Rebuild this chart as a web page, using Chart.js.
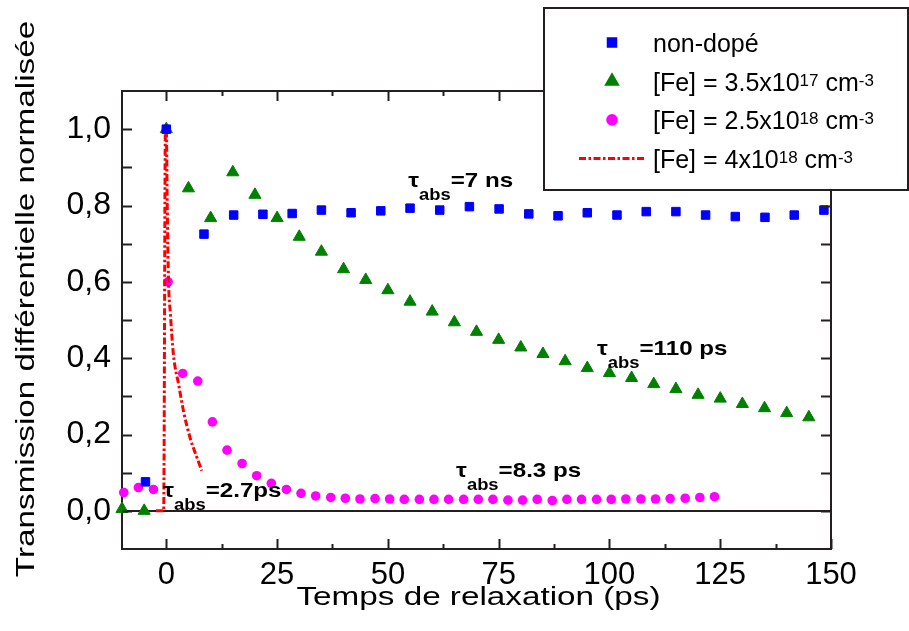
<!DOCTYPE html>
<html>
<head>
<meta charset="utf-8">
<script src="https://cdn.jsdelivr.net/npm/chart.js@4/dist/chart.umd.min.js"></script>
<style>
  html, body { margin: 0; padding: 0; background: #fff; }
  #wrap { width: 909px; height: 631px; }
</style>
</head>
<body>
<div id="wrap"><canvas id="out" width="909" height="631"></canvas></div>
<script>
// relaxation time (ps) / normalised differential transmission
const nonDopeX = [-4.7, 0, 8.5, 15.2, 21.8, 28.4, 35, 41.7, 48.4, 55, 61.7, 68.4, 75.1, 81.8, 88.4, 95, 101.7, 108.3, 115, 121.7, 128.4, 135.1, 141.7, 148.4];
const nonDopeY = [0.076, 1.0, 0.725, 0.775, 0.777, 0.779, 0.788, 0.781, 0.786, 0.793, 0.788, 0.797, 0.791, 0.778, 0.773, 0.781, 0.775, 0.784, 0.784, 0.775, 0.771, 0.769, 0.775, 0.788];

const fe35X = [-10, -5, 0, 5, 10, 15, 20, 25, 30, 35, 40, 45, 50, 55, 60, 65, 70, 75, 80, 85, 90, 95, 100, 105, 110, 115, 120, 125, 130, 135, 140, 145];
const fe35Y = [0.005, 0.0, 1.0, 0.845, 0.767, 0.887, 0.828, 0.767, 0.718, 0.679, 0.633, 0.605, 0.578, 0.548, 0.522, 0.494, 0.469, 0.448, 0.428, 0.411, 0.392, 0.374, 0.361, 0.348, 0.332, 0.319, 0.304, 0.294, 0.280, 0.269, 0.256, 0.245];

const fe25X = [-9.6, -6.3, -2.9, 0.4, 3.7, 7.1, 10.4, 13.7, 17.1, 20.4, 23.7, 27.1, 30.4, 33.7, 37.1, 40.4, 43.7, 47.1, 50.4, 53.7, 57.1, 60.4, 63.7, 67.1, 70.4, 73.7, 77.1, 80.4, 83.7, 87.1, 90.4, 93.7, 97.1, 100.4, 103.7, 107.1, 110.4, 113.7, 117.1, 120.4, 123.7];
const fe25Y = [0.048, 0.061, 0.056, 0.600, 0.360, 0.340, 0.233, 0.159, 0.124, 0.092, 0.072, 0.056, 0.046, 0.039, 0.035, 0.033, 0.031, 0.032, 0.031, 0.030, 0.030, 0.030, 0.030, 0.030, 0.030, 0.030, 0.028, 0.028, 0.030, 0.027, 0.030, 0.030, 0.030, 0.030, 0.031, 0.031, 0.031, 0.032, 0.033, 0.035, 0.037];

const fe4X = [-2.3, -0.6, -0.2, 0.0, 0.2, 0.5, 0.9, 1.6, 2.8, 3.9, 5.4, 6.9, 8.0];
const fe4Y = [0, 0, 1.0, 1.0, 0.81, 0.6, 0.52, 0.41, 0.33, 0.26, 0.19, 0.14, 0.105];

const seriesNames = ['non-dopé', '[Fe] = 3.5x10^{17} cm^{-3}', '[Fe] = 2.5x10^{18} cm^{-3}', '[Fe] = 4x10^{18} cm^{-3}'];

const xTickVals = [0, 12.5, 25, 37.5, 50, 62.5, 75, 87.5, 100, 112.5, 125, 137.5, 150];
const xTickLabels = ['0', '', '25', '', '50', '', '75', '', '100', '', '125', '', '150'];
const yTickVals = [0, 0.1, 0.2, 0.3, 0.4, 0.5, 0.6, 0.7, 0.8, 0.9, 1.0];
const yTickLabels = ['0,0', '', '0,2', '', '0,4', '', '0,6', '', '0,8', '', '1,0'];

const xTitle = 'Temps de relaxation (ps)';
const yTitle = 'Transmission différentielle normalisée';

// fitted lifetimes, written next to each curve
const notes = [
  { text: 'τ_{abs}=7 ns', x: 54.6, y: 0.849 },
  { text: 'τ_{abs}=110 ps', x: 97.2, y: 0.408 },
  { text: 'τ_{abs}=8.3 ps', x: 65.4, y: 0.088 },
  { text: 'τ_{abs}=2.7ps', x: -0.7, y: 0.036 }
];

const ink = '#231f20';
const family = "'Liberation Sans', Arial, sans-serif";

function pts(xs, ys) {
  return xs.map((x, i) => ({ x: x, y: ys[i] }));
}

// "a_{b}c^{d}" -> segments
function parseRich(str) {
  const out = [];
  const re = /([_^])\{([^}]*)\}/g;
  let last = 0, m;
  while ((m = re.exec(str)) !== null) {
    if (m.index > last) out.push({ t: str.slice(last, m.index), k: '' });
    out.push({ t: m[2], k: m[1] });
    last = re.lastIndex;
  }
  if (last < str.length) out.push({ t: str.slice(last), k: '' });
  return out;
}

function drawRich(ctx, str, x, y, st) {
  let cx = x;
  parseRich(str).forEach(seg => {
    const small = seg.k !== '';
    ctx.font = small ? st.small : st.font;
    const dy = seg.k === '_' ? st.sub : (seg.k === '^' ? -st.sup : 0);
    ctx.save();
    ctx.translate(cx, y + dy);
    ctx.scale(st.sx, 1);
    ctx.fillText(seg.t, 0, 0);
    ctx.restore();
    cx += ctx.measureText(seg.t).width * st.sx;
  });
}

function marker(ctx, style, r, x, y, color) {
  ctx.fillStyle = color;
  ctx.strokeStyle = color;
  if (Chart.helpers && Chart.helpers.drawPoint) {
    Chart.helpers.drawPoint(ctx, { pointStyle: style, radius: r, rotation: 0, borderWidth: 1 }, x, y);
    return;
  }
  ctx.beginPath();
  ctx.arc(x, y, r, 0, Math.PI * 2);
  ctx.fill();
}

const decorations = {
  id: 'decorations',
  afterDraw(chart) {
    const ctx = chart.ctx;
    const a = chart.chartArea;
    const xs = chart.scales.x, ys = chart.scales.y;
    ctx.save();

    // inward tick marks on all four sides
    ctx.strokeStyle = ink;
    ctx.lineWidth = 2;
    ctx.beginPath();
    xTickVals.forEach((v, i) => {
      const px = Math.round(xs.getPixelForValue(v)) + 0.5;
      const len = xTickLabels[i] !== '' ? 10 : 5;
      ctx.moveTo(px, a.bottom); ctx.lineTo(px, a.bottom - len);
      ctx.moveTo(px, a.top); ctx.lineTo(px, a.top + len);
    });
    yTickVals.forEach(v => {
      const py = Math.round(ys.getPixelForValue(v)) + 0.5;
      ctx.moveTo(a.left, py); ctx.lineTo(a.left + 10, py);
      ctx.moveTo(a.right, py); ctx.lineTo(a.right - 10, py);
    });
    ctx.stroke();

    // axis titles
    ctx.fillStyle = '#000';
    ctx.textAlign = 'center';
    ctx.textBaseline = 'alphabetic';
    ctx.font = '25px ' + family;
    ctx.save();
    ctx.translate((a.left + a.right) / 2 + 2, 605);
    ctx.scale(1.33, 1);
    ctx.fillText(xTitle, 0, 0);
    ctx.restore();
    ctx.save();
    ctx.translate(33.5, 299);
    ctx.rotate(-Math.PI / 2);
    ctx.scale(1.33, 1);
    ctx.fillText(yTitle, 0, 0);
    ctx.restore();

    // lifetime notes
    ctx.textAlign = 'left';
    const noteStyle = { font: 'bold 21px ' + family, small: 'bold 16px ' + family, sub: 13, sup: 0, sx: 1.15 };
    notes.forEach(n => {
      drawRich(ctx, n.text, xs.getPixelForValue(n.x), ys.getPixelForValue(n.y), noteStyle);
    });

    // legend box
    const box = { l: 544, t: 8, r: 908, b: 190 };
    ctx.fillStyle = '#fff';
    ctx.fillRect(box.l, box.t, box.r - box.l, box.b - box.t);
    ctx.strokeStyle = ink;
    ctx.lineWidth = 2;
    ctx.strokeRect(box.l, box.t, box.r - box.l, box.b - box.t);

    const legStyle = { font: '25px ' + family, small: '17px ' + family, sub: 0, sup: 5, sx: 1 };
    chart.data.datasets.forEach((ds, i) => {
      const base = 52 + i * 38.7;
      const my = base - 9.5;
      if (ds.showLine) {
        ctx.save();
        ctx.strokeStyle = ds.borderColor;
        ctx.lineWidth = ds.borderWidth;
        ctx.setLineDash(ds.borderDash);
        ctx.beginPath();
        ctx.moveTo(579, my); ctx.lineTo(646, my);
        ctx.stroke();
        ctx.restore();
      } else {
        marker(ctx, ds.pointStyle, ds.pointRadius, 612, my, ds.backgroundColor);
      }
      ctx.fillStyle = '#000';
      drawRich(ctx, seriesNames[i], 653, base, legStyle);
    });
    ctx.restore();
  }
};

const chartConfig = {
  type: 'scatter',
  data: {
    datasets: [
      {
        label: seriesNames[0],
        data: pts(nonDopeX, nonDopeY),
        pointStyle: 'rect', pointRadius: 6, borderWidth: 1,
        backgroundColor: '#0000ff', borderColor: '#0000ff',
        showLine: false, order: 1, clip: false
      },
      {
        label: seriesNames[1],
        data: pts(fe35X, fe35Y),
        pointStyle: 'triangle', pointRadius: 7, borderWidth: 1,
        backgroundColor: '#008000', borderColor: '#008000',
        showLine: false, order: 3, clip: false
      },
      {
        label: seriesNames[2],
        data: pts(fe25X, fe25Y),
        pointStyle: 'circle', pointRadius: 4.8, borderWidth: 0,
        backgroundColor: '#ff00ff', borderColor: '#ff00ff',
        showLine: false, order: 4, clip: false
      },
      {
        label: seriesNames[3],
        data: pts(fe4X, fe4Y),
        showLine: true, pointRadius: 0,
        borderColor: '#ff0000', backgroundColor: '#ff0000',
        borderWidth: 3, borderDash: [7, 2.5, 2.5, 2.5],
        cubicInterpolationMode: 'monotone',
        order: 2, clip: false
      }
    ]
  },
  options: {
    responsive: false,
    animation: false,
    devicePixelRatio: 1,
    layout: { padding: 0 },
    plugins: { legend: { display: false }, tooltip: { enabled: false } },
    scales: {
      x: {
        type: 'linear', position: 'bottom', min: -10, max: 150,
        afterBuildTicks: s => { s.ticks = xTickVals.map(v => ({ value: v })); },
        afterFit: s => { s.height = 82; },
        grid: { display: false, drawTicks: false },
        border: { display: true, color: ink, width: 2 },
        ticks: {
          autoSkip: false, maxRotation: 0, padding: 8, color: '#000',
          font: { family: family, size: 31 },
          callback: (v, i) => xTickLabels[i]
        }
      },
      y: {
        type: 'linear', position: 'left', min: -0.1, max: 1.1,
        afterBuildTicks: s => { s.ticks = yTickVals.map(v => ({ value: v })); },
        afterFit: s => { s.width = 122; },
        grid: {
          display: true, drawTicks: false, lineWidth: 2,
          color: c => (c.tick && c.tick.value === 0 ? ink : 'rgba(0,0,0,0)')
        },
        border: { display: true, color: ink, width: 2 },
        ticks: {
          autoSkip: false, padding: 11, color: '#000',
          font: { family: family, size: 32 },
          callback: (v, i) => yTickLabels[i]
        }
      },
      x2: {
        type: 'linear', position: 'top', min: -10, max: 150,
        afterFit: s => { s.height = 91; },
        grid: { display: false, drawTicks: false },
        border: { display: true, color: ink, width: 2 },
        ticks: { display: false }
      },
      y2: {
        type: 'linear', position: 'right', min: -0.1, max: 1.1,
        afterFit: s => { s.width = 78; },
        grid: { display: false, drawTicks: false },
        border: { display: true, color: ink, width: 2 },
        ticks: { display: false }
      }
    }
  },
  plugins: [decorations]
};

window.chart = new Chart(document.getElementById('out').getContext('2d'), chartConfig);
</script>
</body>
</html>
